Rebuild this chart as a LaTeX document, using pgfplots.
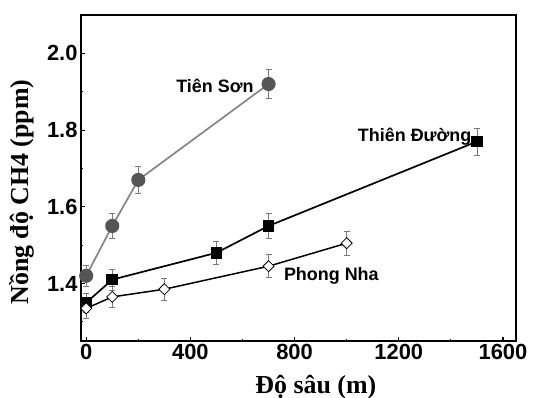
\documentclass[border=0pt]{standalone}
\usepackage{fontspec}
\setmainfont{Liberation Serif}
\setsansfont{Liberation Sans}
\usepackage{pgfplots}
\pgfplotsset{compat=1.18}
\usepackage{pgfplotstable}
\definecolor{tsmark}{HTML}{555555}
\definecolor{tsline}{HTML}{858585}
\definecolor{errc}{HTML}{7A7A7A}

\pgfplotstableread{
x y e
0 1.42 0.028
100 1.55 0.032
200 1.67 0.035
700 1.92 0.037
}\tienson
\pgfplotstableread{
x y e
0 1.35 0.025
100 1.41 0.028
500 1.48 0.030
700 1.55 0.033
1500 1.77 0.035
}\thienduong
\pgfplotstableread{
x y e
0 1.335 0.025
100 1.365 0.027
300 1.385 0.028
700 1.445 0.030
1000 1.505 0.032
}\phongnha

\begin{document}
\begin{tikzpicture}
\begin{axis}[
  at={(0,0)}, anchor=south west,
  scale only axis, width=435bp, height=326bp,
  xmin=-20, xmax=1650, ymin=1.25, ymax=2.1,
  xtick={0,400,800,1200,1600}, minor xtick={200,600,1000,1400},
  ytick={1.4,1.6,1.8,2.0}, minor ytick={1.3,1.5,1.7,1.9},
  tick align=inside, xtick pos=bottom, ytick pos=left,
  major tick length=4.5bp, minor tick length=2.5bp,
  axis line style={line width=1.7bp},
  every tick/.style={line width=1.1bp, black},
  ticklabel style={font=\sffamily\bfseries\fontsize{22}{22}\selectfont},
  /pgf/number format/assume math mode=true,
  yticklabel style={/pgf/number format/fixed, /pgf/number format/fixed zerofill, /pgf/number format/precision=1},
  xticklabel style={/pgf/number format/1000 sep={}},
  xlabel={Độ sâu (m)},
  ylabel={Nồng độ CH4 (ppm)},
  label style={font=\bfseries\fontsize{26}{26}\selectfont},
  xlabel style={at={(axis description cs:0.54,0)}, anchor=base, yshift=-52bp},
  ylabel style={at={(axis description cs:-0.136,0.457)}, anchor=center},
  clip=false,
]
\addplot[tsline, line width=1.7bp, mark=*, mark size=6.2bp, mark options={fill=tsmark, draw=tsmark},
  error bars/.cd, y dir=both, y explicit,
  error bar style={errc, line width=0.7bp}, error mark options={rotate=90, mark size=3bp, errc, line width=0.7bp}]
  table[x=x, y=y, y error=e] {\tienson};
\addplot[black, line width=1.7bp, mark=square*, mark size=5bp, mark options={fill=black},
  error bars/.cd, y dir=both, y explicit,
  error bar style={errc, line width=0.7bp}, error mark options={rotate=90, mark size=3bp, errc, line width=0.7bp}]
  table[x=x, y=y, y error=e] {\thienduong};
\addplot[black, line width=1.5bp, mark=square*, mark size=3.9bp, mark options={fill=white, draw=black, line width=0.8bp, rotate=45},
  error bars/.cd, y dir=both, y explicit,
  error bar style={errc, line width=0.7bp}, error mark options={rotate=90, mark size=3bp, errc, line width=0.7bp}]
  table[x=x, y=y, y error=e] {\phongnha};
\node[font=\sffamily\bfseries\fontsize{18}{18}\selectfont] at (axis cs:494,1.914) {Tiên Sơn};
\node[font=\sffamily\bfseries\fontsize{18}{18}\selectfont] at (axis cs:1261,1.782) {Thiên Đường};
\node[font=\sffamily\bfseries\fontsize{18}{18}\selectfont] at (axis cs:941,1.42) {Phong Nha};
\end{axis}
\pgfresetboundingbox
\useasboundingbox (-81bp,-57bp) rectangle (461bp,341bp);
\end{tikzpicture}
\end{document}
